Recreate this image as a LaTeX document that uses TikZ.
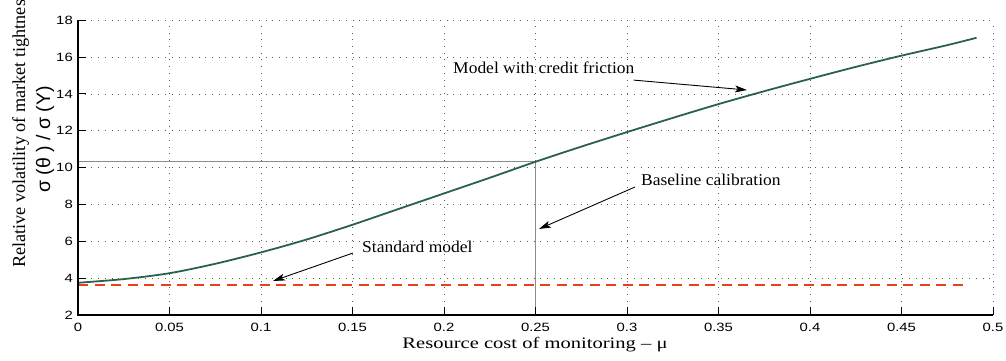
\documentclass[tikz,border=0pt]{standalone}
\usepackage{fontspec}
\setmainfont{Liberation Serif}
\newfontfamily\ticksf{Liberation Sans}
\usetikzlibrary{arrows.meta}
\definecolor{curvegreen}{RGB}{40,98,72}
\definecolor{stdred}{RGB}{232,64,28}
\definecolor{gridgray}{RGB}{90,90,90}
\definecolor{calgray}{RGB}{140,140,140}
\newcommand\ticklab[1]{\scalebox{1.24}[1]{\ticksf\fontsize{12}{14}\selectfont #1}}
\newcommand\annottext[1]{\scalebox{1.06}[1]{\fontsize{16.5}{19}\selectfont #1}}
\tikzset{
  gridline/.style={gridgray, line width=0.9pt, dash pattern=on 1pt off 5.7pt},
  axisline/.style={black, line width=1.2pt},
  tickline/.style={black, line width=1pt},
  calline/.style={calgray, line width=1.2pt},
  annot/.style={inner sep=0pt},
  arr/.style={black, line width=0.9pt, -{Stealth[length=12pt,width=7pt,inset=3pt]}},
}
\begin{document}
\begin{tikzpicture}[x=1pt,y=1pt]
\useasboundingbox (0,0) rectangle (1006,360);
\begin{scope}[shift={(78,8.16)}, x=1830pt, y=18.42pt]
  % grid
  \foreach \i in {1,...,10}{
    \draw[gridline] (\i*0.05,2) -- (\i*0.05,18);
  }
  \foreach \v in {4,6,...,18}{
    \draw[gridline] (0,\v) -- (0.5,\v);
  }
  % calibration lines
  \coordinate (calpt) at (0.25,10.32);
  \draw[calline] (0,10.32) -- (calpt) -- (0.25,2);
  % standard model
  \draw[stdred, line width=1.8pt, dash pattern=on 10pt off 6.5pt] (0,3.63) -- (0.486,3.63);
  % curve
  \draw[curvegreen, line width=1.8pt] plot[smooth] coordinates {
    (0,3.75) (0.025,3.95) (0.05,4.27) (0.075,4.78) (0.1,5.4) (0.125,6.1)
    (0.15,6.9) (0.175,7.75) (0.2,8.6) (0.225,9.45) (0.25,10.32) (0.275,11.14)
    (0.3,11.93) (0.325,12.7) (0.35,13.45) (0.375,14.15) (0.4,14.82) (0.425,15.47)
    (0.45,16.08) (0.475,16.65) (0.491,17.05)};
  % axes
  \draw[axisline] (0,18) -- (0,2) -- (0.5,2);
  \foreach \t/\l in {0/0,0.05/0.05,0.1/0.1,0.15/0.15,0.2/0.2,0.25/0.25,0.3/0.3,0.35/0.35,0.4/0.4,0.45/0.45,0.5/0.5}{
    \draw[tickline] (\t,2) -- ++(0,8pt);
    \node[anchor=base, inner sep=0pt] (xt\l) at ([yshift=-16pt]\t,2) {\ticklab{\l}};
  }
  \foreach \v in {2,4,...,18}{
    \draw[tickline] (0,\v) -- ++(8pt,0);
    \node[anchor=east, inner sep=0pt] (yt\v) at ([xshift=-5pt]0,\v) {\ticklab{\v}};
  }
\end{scope}
% axis labels
\node[anchor=base, inner sep=0pt] (xlab) at (535,12) {\scalebox{1.285}[1]{\fontsize{16}{19}\selectfont Resource cost of monitoring – μ}};
\node[rotate=90, anchor=base west, inner sep=0pt] (ylab1) at (25,92) {\fontsize{18.2}{20}\selectfont Relative volatility of market tightnes};
\node[rotate=90, anchor=base west, inner sep=0pt] (ylab2) at (50,167) {\ticksf\fontsize{19.5}{22}\selectfont σ (θ ) / σ (Y)};
% annotations
\node[annot, anchor=west] (tmodel) at (453,292) {\annottext{Model with credit friction}};
\coordinate (amodel) at (747,270);
\draw[arr] ([shift={(-1pt,-6pt)}]tmodel.south east) -- (amodel);
\node[annot, anchor=west] (tbase) at (641,180) {\annottext{Baseline calibration}};
\coordinate (abase) at (539,131);
\draw[arr] ([shift={(-6pt,-7pt)}]tbase.west) -- (abase);
\node[annot, anchor=west] (tstd) at (362,113) {\annottext{Standard model}};
\coordinate (astd) at (273,79);
\draw[arr] ([shift={(-9pt,-6pt)}]tstd.west) -- (astd);
\end{tikzpicture}
\end{document}
